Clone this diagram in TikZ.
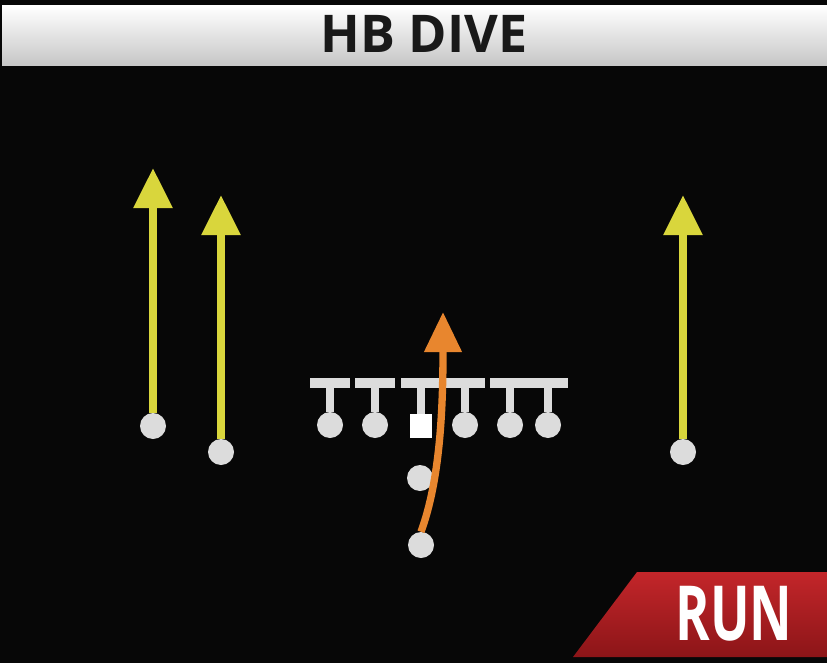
\documentclass[tikz,border=0pt]{standalone}
\usepackage{fontspec}
\setmainfont{Open Sans}
\usetikzlibrary{arrows.meta, positioning}

\definecolor{fieldbg}{HTML}{070707}
\definecolor{routeyellow}{HTML}{D9D63C}
\definecolor{routeorange}{HTML}{E8862E}
\definecolor{dotgray}{HTML}{DCDCDC}
\definecolor{runred}{HTML}{C3262A}
\definecolor{rundark}{HTML}{8C1518}

\tikzset{
  player/.style={circle, fill=dotgray, inner sep=0pt, minimum size=19.5pt},
  center/.style={rectangle, fill=white, inner sep=0pt, minimum width=16.5pt, minimum height=18pt},
  route/.style={routeyellow, line width=6pt, -{Triangle[width=28pt, length=30pt]}},
  runroute/.style={routeorange, line width=5.5pt, -{Triangle[width=27pt, length=30pt]}},
  stem/.style={dotgray, line width=6pt},
  bar/.style={dotgray, line width=7.5pt}
}

\begin{document}
\begin{tikzpicture}[x=0.75pt, y=-0.75pt]
\useasboundingbox (0,0) rectangle (827,663);

% Background
\fill[fieldbg] (0,0) rectangle (827,663);

% Title bar
\shade[top color=white, middle color=white!97!black, bottom color=gray!45] (2,6) rectangle (827,66);
\node[font=\bfseries\fontsize{39}{39}\selectfont, text=black!90] (title) at (424,34) {HB DIVE};

% Receivers
\node[player] (wrA) at (153,426) {};
\node[player] (wrB) at (221,452) {};
\node[player] (wrC) at (683,452) {};
\coordinate (tipA) at (153,168);
\coordinate (tipB) at (221,195);
\coordinate (tipC) at (683,195);
\draw[route] (wrA) -- (tipA);
\draw[route] (wrB) -- (tipB);
\draw[route] (wrC) -- (tipC);

% Offensive line (blocking T's)
\foreach \x/\name in {330/lt, 375/lg, 465/rg, 510/rt, 548/te} {
  \node[player] (\name) at (\x,425) {};
  \draw[stem] (\x,383) -- (\name);
  \draw[bar] (\x-20,383) -- (\x+20,383);
}
\node[center] (c) at (421,426) {};
\draw[stem] (421,383) -- (c);
\draw[bar] (401,383) -- (441,383);

% Backfield
\node[player] (qb) at (420,478) {};
\node[player] (hb) at (421,545) {};

% Dive path
\coordinate (tipHB) at (443,312);
\draw[runroute] (hb.north) .. controls (440,480) and (443,410) .. (tipHB);

% Play type tag
\shade[top color=runred, bottom color=rundark] (637,572) -- (827,572) -- (827,657) -- (573,657) -- cycle;
\node[font=\bfseries\fontsize{57}{57}\selectfont, text=white] (run) at (734,614) {\scalebox{0.69}[1]{RUN}};
\end{tikzpicture}
\end{document}
